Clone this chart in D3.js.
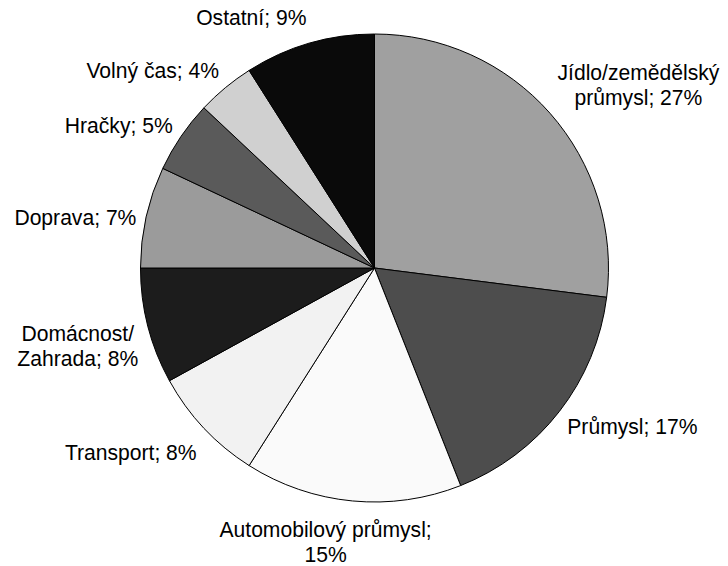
<!DOCTYPE html>
<html>
<head>
<meta charset="utf-8">
<script src="https://cdn.jsdelivr.net/npm/d3@7"></script>
<style>
  html, body { margin: 0; padding: 0; background: #ffffff; }
  svg { display: block; }
  text { font-family: "Liberation Sans", Arial, sans-serif; fill: #000; }
</style>
</head>
<body>
<svg id="chart" width="728" height="566"></svg>
<script>
// Segments, clockwise from 12 o'clock
const categories = [
  "Jídlo/zemědělský průmysl", "Průmysl", "Automobilový průmysl", "Transport",
  "Domácnost/Zahrada", "Doprava", "Hračky", "Volný čas", "Ostatní"
];
const shares = [27, 17, 15, 8, 8, 7, 5, 4, 9];
// Label text, already broken into lines
const labelLines = [
  ["Jídlo/zemědělský", "průmysl; 27%"],
  ["Průmysl; 17%"],
  ["Automobilový průmysl;", "15%"],
  ["Transport; 8%"],
  ["Domácnost/", "Zahrada; 8%"],
  ["Doprava; 7%"],
  ["Hračky; 5%"],
  ["Volný čas; 4%"],
  ["Ostatní; 9%"]
];
const fills = ["#a0a0a0", "#4d4d4d", "#fafafa", "#f2f2f2", "#1c1c1c", "#9b9b9b", "#5a5a5a", "#d0d0d0", "#0a0a0a"];

const svg = d3.select("#chart");
const cx = 374.5, cy = 268, R = 234;
const fontSize = 22, lineH = 25, squeeze = 0.96;

const pie = d3.pie().sort(null).value(d => d);
const arcs = pie(shares);
const arc = d3.arc().innerRadius(0).outerRadius(R);

const g = svg.append("g").attr("transform", `translate(${cx},${cy})`);

g.selectAll("path.slice")
  .data(arcs)
  .join("path")
  .attr("class", "slice")
  .attr("d", arc)
  .attr("fill", (d, i) => fills[i])
  .attr("stroke", "#000")
  .attr("stroke-width", 1)
  .attr("stroke-linejoin", "round");

// Outside-end labels: box edge sits just beyond the rim along the mid angle
const labelShift = [[0, -3.5], [0, -1.5], [10, 3], [0, 6.5], [0, 10], [0, 5.5], [0, 3], [0, 2], [0, -1.5]];

const labels = g.selectAll("text.lbl")
  .data(arcs)
  .join("text")
  .attr("class", "lbl")
  .attr("font-size", fontSize)
  .attr("text-anchor", "middle")
  .attr("transform", `scale(${squeeze},1)`);

labels.each(function (d, i) {
  const t = d3.select(this);
  const lines = labelLines[i];
  lines.forEach(l => t.append("tspan").text(l));
  let w = 0;
  t.selectAll("tspan").each(function () { w = Math.max(w, this.getComputedTextLength()); });
  w *= squeeze;
  const a = (d.startAngle + d.endAngle) / 2;
  const s = Math.sin(a), c = Math.cos(a);
  const h = lines.length * 24;
  const px = s * (R + 10);
  const bx = px + Math.max(-1, Math.min(1, s * 3.6)) * w / 2 + labelShift[i][0];
  const by = -c * (248 + h / 2) + labelShift[i][1];
  const first = by - (lines.length - 1) * lineH / 2 + 8;
  t.selectAll("tspan")
    .attr("x", bx / squeeze)
    .attr("y", (l, k) => first + k * lineH);
});
</script>
</body>
</html>
